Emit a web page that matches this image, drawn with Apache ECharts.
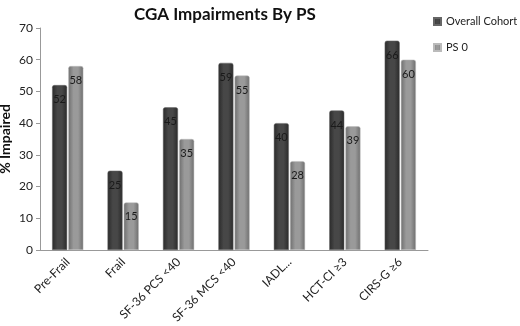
<!DOCTYPE html>
<html>
<head>
<meta charset="utf-8">
<script src="https://cdn.jsdelivr.net/npm/echarts@6/dist/echarts.min.js"></script>
<style>
  html, body { margin: 0; padding: 0; background: #fff; }
  #chart { width: 520px; height: 326px; }
</style>
</head>
<body>
<div id="chart"></div>
<script>
const categories = ['Pre-Frail', 'Frail', 'SF-36 PCS <40', 'SF-36 MCS <40', 'IADL...', 'HCT-CI ≥3', 'CIRS-G ≥6']
const overallCohort = [52, 25, 45, 59, 40, 44, 66]
const ps0 = [58, 15, 35, 55, 28, 39, 60]
const yTicks = { min: 0, max: 70, interval: 10 }

const chart = echarts.init(document.getElementById('chart'))

function cylinder(edge, mid) {
  return new echarts.graphic.LinearGradient(0, 0, 1, 0, [
    { offset: 0, color: edge },
    { offset: 0.35, color: mid },
    { offset: 0.65, color: mid },
    { offset: 1, color: edge }
  ])
}

const option = {
  animation: false,
  textStyle: { fontFamily: 'Lato, Open Sans, sans-serif' },
  title: {
    text: 'CGA Impairments By PS',
    left: 220,
    top: 1,
    textAlign: 'center',
    textStyle: { fontSize: 17, fontWeight: 'bold', color: '#111' }
  },
  legend: {
    orient: 'vertical',
    left: 433,
    top: 16,
    padding: 0,
    itemWidth: 7,
    itemHeight: 7,
    itemGap: 15,
    icon: 'rect',
    textStyle: { fontSize: 11, color: '#222' },
    data: ['Overall Cohort', 'PS 0']
  },
  grid: { left: 40, right: 92, top: 28, bottom: 76, outerBoundsMode: 'none' },
  xAxis: {
    type: 'category',
    data: categories,
    axisLine: { lineStyle: { color: '#999' } },
    axisTick: { show: false },
    axisLabel: { rotate: 45, fontSize: 12, color: '#222', margin: 10, interval: 0 }
  },
  yAxis: {
    type: 'value',
    min: yTicks.min,
    max: yTicks.max,
    interval: yTicks.interval,
    name: '% Impaired',
    nameLocation: 'middle',
    nameGap: 28,
    nameMoveOverlap: false,
    nameTextStyle: { fontSize: 14, fontWeight: 'bold', color: '#111' },
    axisLine: { show: true, lineStyle: { color: '#999' } },
    axisTick: { show: true, length: 4, lineStyle: { color: '#999' } },
    axisLabel: { fontSize: 12, color: '#222', margin: 7 },
    splitLine: { show: false }
  },
  series: [
    {
      name: 'Overall Cohort',
      type: 'bar',
      data: overallCohort,
      barWidth: 15,
      barGap: '8%',
      itemStyle: {
        color: cylinder('#2a2a2a', '#474747'),
        borderColor: '#666',
        borderWidth: 0.5,
        borderRadius: [2, 2, 0, 0]
      },
      label: { show: true, position: 'insideTop', offset: [0, 4], fontSize: 11, color: '#1a1a1a' }
    },
    {
      name: 'PS 0',
      type: 'bar',
      data: ps0,
      barWidth: 15,
      itemStyle: {
        color: cylinder('#6e6e6e', '#9a9a9a'),
        borderColor: '#bbb',
        borderWidth: 0.5,
        borderRadius: [2, 2, 0, 0]
      },
      label: { show: true, position: 'insideTop', offset: [0, 4], fontSize: 11, color: '#1a1a1a' }
    }
  ]
}

chart.setOption(option)
</script>
</body>
</html>
